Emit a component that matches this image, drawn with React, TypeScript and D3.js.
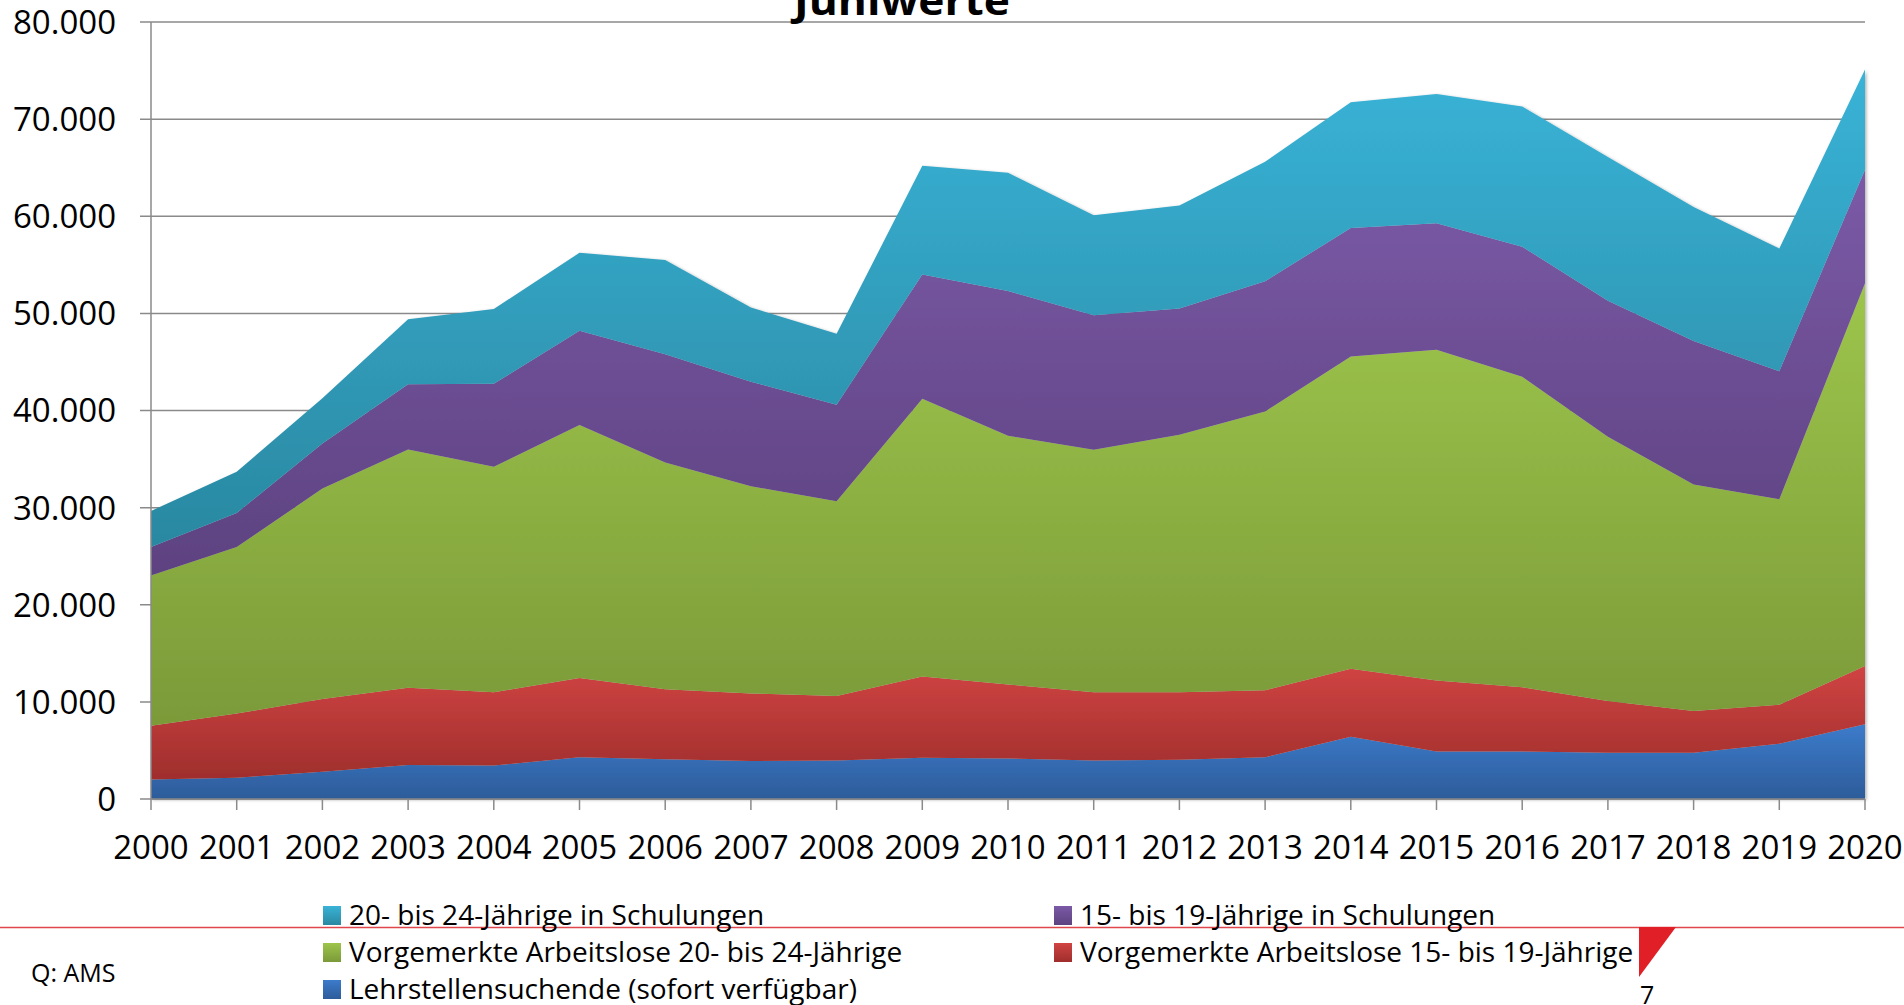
import React from 'react';
import * as d3 from 'd3';

const years = d3.range(2000, 2021);

// series values, bottom to top (stack order)
const lehrstellen = [2000, 2200, 2800, 3500, 3450, 4300, 4100, 3900, 3970, 4240, 4170, 3970, 4030, 4300, 6400, 4900, 4900, 4750, 4750, 5700, 7700];
const al15bis19 = [5550, 6600, 7500, 7950, 7550, 8150, 7200, 6960, 6630, 8360, 7630, 7030, 6970, 6900, 7000, 7300, 6600, 5350, 4320, 4000, 6000];
const al20bis24 = [15450, 17150, 21660, 24530, 23200, 26050, 23340, 21340, 20050, 28600, 25600, 24950, 26500, 28700, 32170, 34050, 31970, 27200, 23300, 21160, 39400];
const schul15bis19 = [2950, 3500, 4640, 6720, 8550, 9700, 11160, 10760, 9950, 12800, 14900, 13850, 13000, 13400, 13230, 13030, 13400, 14000, 14780, 13190, 11700];
const schul20bis24 = [3710, 4250, 4650, 6700, 7700, 8050, 9700, 7640, 7300, 11200, 12170, 10300, 10600, 12300, 12950, 13300, 14430, 14800, 13810, 12620, 10300];

const seriesKeys = ['lehr', 'al15', 'al20', 's15', 's20'];
const seriesNames = [
  'Lehrstellensuchende (sofort verfügbar)',
  'Vorgemerkte Arbeitslose 15- bis 19-Jährige',
  'Vorgemerkte Arbeitslose 20- bis 24-Jährige',
  '15- bis 19-Jährige in Schulungen',
  '20- bis 24-Jährige in Schulungen',
];
const seriesColors = [
  ['#3c7bcb', '#2d5c9a'],
  ['#d04443', '#9f2e2c'],
  ['#9dc54b', '#7b9a39'],
  ['#7b5aa7', '#5d4280'],
  ['#39b3d7', '#2a88a1'],
];
const yTicks = [0, 10000, 20000, 30000, 40000, 50000, 60000, 70000, 80000];

// legend layout: [series index, column, row]
const legendOrder = [[4, 0, 0], [3, 1, 0], [2, 0, 1], [1, 1, 1], [0, 0, 2]];

const W = 1904;
const H = 1005;
const left = 151;
const right = 1865;
const top = 22;
const bottom = 799;
const font = "'Open Sans', 'DejaVu Sans', sans-serif";

const de = d3.formatLocale({ decimal: ',', thousands: '.', grouping: [3], currency: ['', '€'] });
const fmt = de.format(',d');

export default function App() {
  const table = years.map((y, i) => ({
    year: y,
    lehr: lehrstellen[i],
    al15: al15bis19[i],
    al20: al20bis24[i],
    s15: schul15bis19[i],
    s20: schul20bis24[i],
  }));

  const stacked = d3.stack().keys(seriesKeys)(table as any);

  const x = d3.scalePoint<number>().domain(years).range([left, right]);
  const y = d3.scaleLinear().domain([0, 80000]).range([bottom, top]);

  const area = d3
    .area<any>()
    .x((d) => x(d.data.year) as number)
    .y0((d) => y(d[0]))
    .y1((d) => y(d[1]));

  return (
    <svg
      width={W}
      height={H}
      style={{ position: 'absolute', left: 0, top: 0, display: 'block' }}
      fontFamily={font}
    >
      <defs>
        {seriesColors.map((c, i) => (
          <linearGradient key={i} id={`g${i}`} x1="0" y1="0" x2="0" y2="1">
            <stop offset="0%" stopColor={c[0]} />
            <stop offset="100%" stopColor={c[1]} />
          </linearGradient>
        ))}
        <filter id="shadow" x="-5%" y="-5%" width="110%" height="110%">
          <feDropShadow dx="1.5" dy="1" stdDeviation="1.5" floodColor="#000" floodOpacity="0.3" />
        </filter>
      </defs>
      <rect width={W} height={H} fill="#fff" />

      {/* gridlines */}
      {yTicks.map((t) => (
        <line key={t} x1={140} x2={right} y1={y(t)} y2={y(t)} stroke="#8a8a8a" strokeWidth={1.5} />
      ))}

      {/* areas */}
      <g filter="url(#shadow)">
        {stacked.map((s, i) => (
          <path key={s.key} d={area(s) as string} fill={`url(#g${i})`} />
        ))}
      </g>

      {/* axes */}
      <line x1={left} x2={left} y1={top} y2={bottom} stroke="#8a8a8a" strokeWidth={1.5} />
      <line x1={left} x2={right} y1={bottom} y2={bottom} stroke="#8a8a8a" strokeWidth={1.5} />
      {years.map((yr) => (
        <line key={yr} x1={x(yr)} x2={x(yr)} y1={bottom} y2={810} stroke="#8a8a8a" strokeWidth={1.5} />
      ))}

      {/* y labels */}
      {yTicks.map((t) => (
        <text key={t} x={116} y={y(t)} dy="0.36em" textAnchor="end" fontSize={33} fill="#000">
          {fmt(t)}
        </text>
      ))}

      {/* x labels */}
      {years.map((yr) => (
        <text key={yr} x={x(yr)} y={859} textAnchor="middle" fontSize={33} fill="#000">
          {yr}
        </text>
      ))}

      {/* title, partly cut at the top */}
      <text x={902} y={15} textAnchor="middle" fontSize={40} fontWeight="bold" fill="#000" textLength={216} lengthAdjust="spacingAndGlyphs">
        Juniwerte
      </text>

      {/* red rule and triangle */}
      <line x1={0} x2={W} y1={927.5} y2={927.5} stroke="#e0474c" strokeWidth={1.5} />
      <path d="M1639,927 L1676,927 L1639,977 Z" fill="#e01f26" />
      <text x={1640} y={1004} fontSize={25} fill="#000">7</text>

      <text x={31} y={982} fontSize={25} fill="#000">Q: AMS</text>

      {/* legend */}
      {legendOrder.map(([si, col, row]) => {
        const lx = col === 0 ? 323 : 1054;
        const cy = 915.5 + row * 37;
        return (
          <g key={si}>
            <rect x={lx} y={cy - 9.5} width={18} height={19} fill={`url(#g${si})`} />
            <text x={lx + 26} y={cy + 9.5} fontSize={28} fill="#000">
              {seriesNames[si]}
            </text>
          </g>
        );
      })}
    </svg>
  );
}
